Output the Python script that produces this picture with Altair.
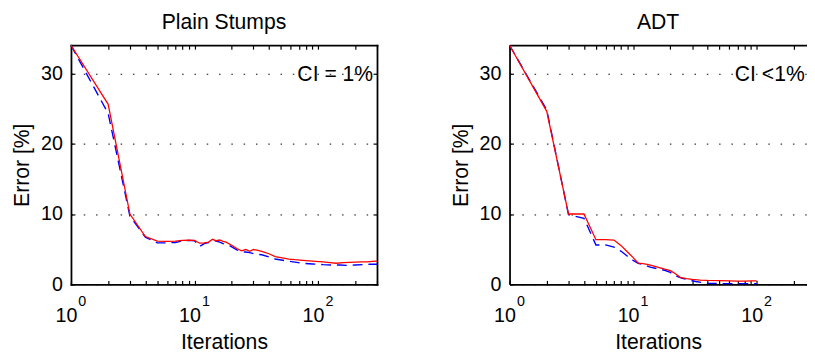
import altair as alt
import pandas as pd

# ---------------- data ----------------
ps_red_iter = [1, 2, 3, 4, 5, 6, 7, 8, 9, 10, 11, 12, 13, 14, 15, 16, 17, 18, 20, 22, 24, 26, 28, 30, 32, 35,
               40, 45, 50, 58, 65, 75, 85, 95, 110, 125, 140, 160, 180, 200, 225, 250, 275, 300]
ps_red_err = [34.0, 25.6, 10.0, 6.8, 6.15, 6.1, 6.15, 6.25, 6.3, 6.25, 5.85, 5.9, 6.0, 6.4, 6.2, 6.3, 6.1, 6.0,
              5.55, 5.1, 4.75, 4.95, 4.7, 4.95, 4.85, 4.7, 4.35, 3.95, 3.8, 3.6, 3.5, 3.4, 3.33, 3.27, 3.2,
              3.1, 3.0, 3.08, 3.13, 3.15, 3.18, 3.2, 3.25, 3.3]

ps_blue_iter = [1, 2, 3, 4, 5, 6, 7, 8, 9, 10, 11, 12, 13, 14, 15, 16, 17, 19, 22, 24, 26, 28, 31, 35, 40,
                45, 55, 65, 75, 90, 110, 130, 150, 170, 200, 230, 260, 300]
ps_blue_err = [34.0, 24.3, 9.7, 6.7, 5.9, 5.9, 5.95, 6.2, 6.25, 6.2, 5.4, 5.8, 5.95, 6.2, 6.15, 6.0, 5.8,
               5.55, 4.9, 4.6, 4.6, 4.5, 4.3, 4.2, 3.9, 3.6, 3.35, 3.15, 3.0, 2.9, 2.8, 2.75, 2.75, 2.7,
               2.75, 2.8, 2.85, 2.85]

adt_red_iter = [1, 2, 3, 4, 5, 6, 7, 8, 9, 10, 11, 12, 13, 14, 16, 18, 20, 22, 24, 27, 30, 35, 40, 50, 60,
                70, 80, 90, 100]
adt_red_err = [34.0, 24.6, 10.0, 10.0, 6.35, 6.35, 6.3, 5.5, 4.6, 3.8, 3.0, 2.95, 2.85, 2.7, 2.4, 2.15,
               1.95, 1.5, 1.0, 0.8, 0.7, 0.6, 0.55, 0.52, 0.48, 0.45, 0.45, 0.48, 0.5]

adt_blue_iter = [1, 2, 3, 4, 5, 6, 7, 8, 9, 10, 11, 12, 13, 14, 16, 18, 20, 22, 25, 28, 32, 36, 40, 50, 70, 100]
adt_blue_err = [34.0, 24.8, 9.9, 9.4, 5.6, 5.6, 5.3, 4.7, 4.0, 3.4, 3.0, 2.8, 2.6, 2.4, 2.2, 2.0, 1.7, 1.2,
                0.85, 0.65, 0.4, 0.25, 0.15, 0.1, 0.1, 0.1]

panel_titles = ["Plain Stumps", "ADT"]
ci_labels = ["CI = 1%", "CI <1%"]
ci_pos = [(68, 29.7), (66.5, 29.7)]
x_tick_values = [1, 2, 3, 4, 5, 6, 7, 8, 9, 10, 20, 30, 40, 50, 60, 70, 80, 90, 100, 200, 300]
x_major = [1, 10, 100]
y_tick_values = [0, 10, 20, 30]

FONT = "Liberation Sans"
NEG_TICK = {"expr": "-4"}


def panel(title, red_it, red_err, blue_it, blue_err, xmax, width, ci, ci_xy, right_axis, cap):
    red = pd.DataFrame({"it": red_it, "err": red_err})
    blue = pd.DataFrame({"it": blue_it, "err": blue_err})
    txt = pd.DataFrame({"it": [ci_xy[0]], "err": [ci_xy[1]], "label": [ci]})
    xs = alt.Scale(type="log", domain=[1, xmax], nice=False)
    ys = alt.Scale(domain=[0, 34], nice=False, zero=False)
    ticks = [v for v in x_tick_values if v <= xmax]
    majors = [v for v in x_major if v <= xmax]

    main_x = alt.Axis(orient="bottom", values=ticks,
                      labelExpr="datum.value == 1 || datum.value == 10 || datum.value == 100 ? '10' : ''",
                      labelAlign="right", labelOffset=6, labelBaseline="alphabetic", labelPadding=41.3,
                      labelFontSize=20, labelFlush=False, labelOverlap=False,
                      tickSize=NEG_TICK, grid=False, domain=True, domainCap=cap,
                      title="Iterations", titleFontSize=21.5, titleFontWeight="normal",
                      titleY=65.5, titleBaseline="alphabetic")
    exp_x = alt.Axis(orient="bottom", values=majors,
                     labelExpr="datum.value == 1 ? '0' : datum.value == 10 ? '1' : '2'",
                     labelAlign="left", labelOffset=7, labelBaseline="alphabetic", labelPadding=22,
                     labelFontSize=14.5, labelFlush=False, labelOverlap=False,
                     ticks=False, domain=False, grid=False, title=None)
    top_x = alt.Axis(orient="top", values=ticks, labels=False, tickSize=NEG_TICK,
                     domain=True, domainCap=cap, grid=False, title=None)
    left_y = alt.Axis(orient="left", values=y_tick_values, grid=True, gridDash=[1.5, 11],
                      gridColor="black", gridWidth=1, gridOpacity=1,
                      tickSize=NEG_TICK, labelPadding=12.7, labelFontSize=20, labelBaseline="middle",
                      domain=True, domainCap=cap,
                      title="Error [%]", titleFontSize=21.5, titleFontWeight="normal",
                      titleX=-42.7, titleY=121.5, titleAngle=270, titleAlign="center",
                      titleBaseline="alphabetic")
    right_y = alt.Axis(orient="right", values=y_tick_values, labels=False, tickSize=NEG_TICK,
                       domain=True, domainCap=cap, grid=False, title=None) if right_axis else None

    l_blue = alt.Chart(blue).mark_line(color="#0000ff", strokeWidth=1.4, strokeDash=[10, 6]).encode(
        x=alt.X("it:Q", scale=xs, axis=main_x),
        y=alt.Y("err:Q", scale=ys, axis=left_y),
    )
    l_red = alt.Chart(red).mark_line(color="#ff0000", strokeWidth=1.3).encode(
        x=alt.X("it:Q", scale=xs, axis=exp_x),
        y=alt.Y("err:Q", scale=ys, axis=right_y),
    )
    l_txt = alt.Chart(txt).mark_text(align="left", baseline="middle", fontSize=21.5, clip=True,
                                     color="black").encode(
        x=alt.X("it:Q", scale=xs, axis=top_x),
        y=alt.Y("err:Q", scale=ys, axis=None),
        text="label:N",
    )
    return alt.layer(l_blue, l_red, l_txt).resolve_axis(x="independent", y="independent").properties(
        width=width, height=243,
        title=alt.TitleParams(title, fontSize=21.5, fontWeight="normal", anchor="middle",
                              baseline="alphabetic", offset=-8, frame="group", color="black"),
    )


left = panel(panel_titles[0], ps_red_iter, ps_red_err, ps_blue_iter, ps_blue_err, 300, 311,
             ci_labels[0], ci_pos[0], True, "square")
right = panel(panel_titles[1], adt_red_iter, adt_red_err, adt_blue_iter, adt_blue_err, 253.7, 302,
              ci_labels[1], ci_pos[1], False, "butt")

chart = alt.hconcat(left, right, spacing=68.7).properties(
    padding={"left": 4, "top": 1, "right": 0, "bottom": 0}
).configure(font=FONT).configure_view(stroke=None).configure_axis(
    domainColor="black", domainWidth=1.8, tickColor="black", tickWidth=1.2,
    labelColor="black", titleColor="black", labelFont=FONT, titleFont=FONT,
)

chart.save("out.html", embed_options={"renderer": "svg", "actions": False})
